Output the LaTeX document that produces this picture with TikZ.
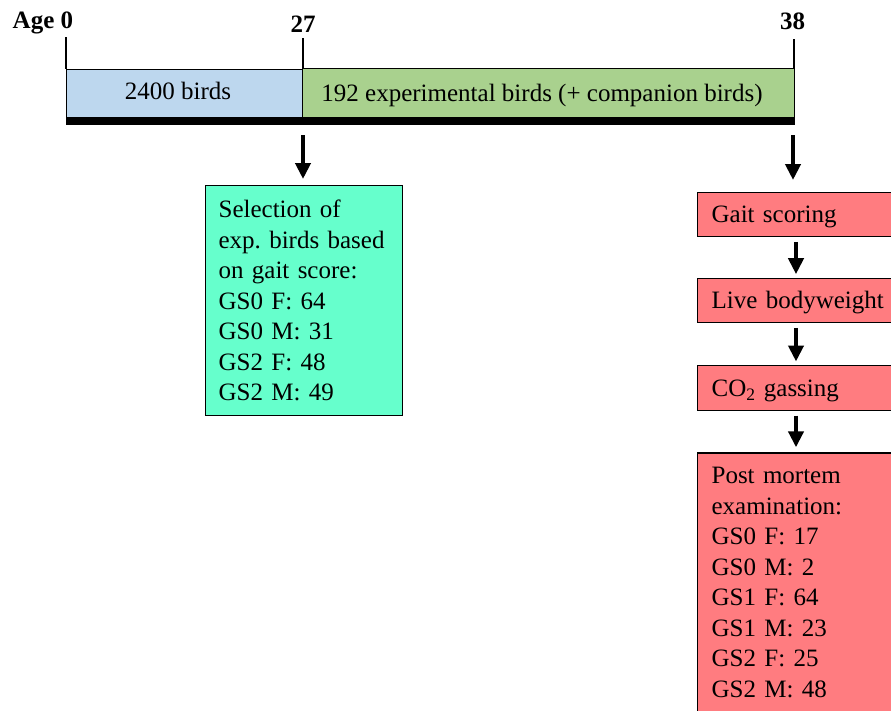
\documentclass[tikz,border=0pt]{standalone}
\usepackage{fontspec}
\setmainfont{Liberation Serif}
\usetikzlibrary{arrows.meta}
\definecolor{cblue}{RGB}{189,215,238}
\definecolor{cgreen}{RGB}{169,209,142}
\definecolor{caqua}{RGB}{102,255,204}
\definecolor{cred}{RGB}{255,124,128}
\frenchspacing
\begin{document}
\begin{tikzpicture}[x=1pt,y=-1pt,
  txt/.style={font=\fontsize{25}{30.5}\selectfont, inner sep=0pt},
  lbl/.style={font=\fontsize{25}{30.5}\selectfont\bfseries, inner sep=0pt},
  barbox/.style={draw=black, line width=1.1pt, inner sep=0pt, anchor=north west},
  redbox/.style={draw=black, line width=1.2pt, fill=cred, anchor=north west,
    font=\fontsize{25}{30.5}\selectfont, inner xsep=14pt, inner ysep=0pt,
    text width=182pt, align=left},
  oneline/.style={text height=17pt, text depth=0pt},
  selbox/.style={draw=black, line width=1.2pt, fill=caqua, anchor=north west,
    font=\fontsize{25}{30.5}\selectfont, inner xsep=13pt, inner ysep=0pt,
    text width=171pt, align=left, minimum height=230pt},
  tick/.style={line width=1.1pt},
  bigarrow/.style={line width=4.7pt, -{Triangle[width=15pt,length=16pt]}}
]
\useasboundingbox (0,0) rectangle (891,710);
\clip (0,0) rectangle (891,710);

% timeline bar
\node[barbox, fill=cblue, minimum width=236pt, minimum height=48pt] (blue) at (66,69) {};
\node[barbox, fill=cgreen, minimum width=492pt, minimum height=49pt] (green) at (302,68) {};
\fill[black] (blue.south west) rectangle ([yshift=-7pt]green.south east);
\node[txt, anchor=base] (bluetxt) at (178,99) {2400 birds};
\node[txt, anchor=base] (greentxt) at (542,101.5) {192 experimental birds (+ companion birds)};

% ticks and ages
\coordinate (t0) at (66,37);
\coordinate (t27) at (303,38);
\coordinate (t38) at (794,39);
\draw[tick] (t0) -- (blue.north west);
\draw[tick] (t27) -- (t27 |- green.north);
\draw[tick] (t38) -- (t38 |- green.north);
\node[lbl, anchor=base west] (age0) at (12.5,28) {Age 0};
\node[lbl, anchor=base] (age27) at (303,32) {27};
\node[lbl, anchor=base] (age38) at (792.5,29.5) {38};

% selection box
\node[selbox] (sel) at (205,185) {Selection of\\exp. birds based\\on gait score:\\GS0 F: 64\\GS0 M: 31\\GS2 F: 48\\GS2 M: 49};
\coordinate (a1s) at (303,135);
\draw[bigarrow] (a1s) -- ([yshift=6pt]a1s |- sel.north);

% red column
\node[redbox, oneline, minimum height=44pt] (gait) at (697,191.7) {Gait scoring};
\node[redbox, oneline, minimum height=44pt] (live) at (697,277.7) {Live bodyweight};
\node[redbox, oneline, minimum height=44.5pt] (co2) at (697,365) {CO\textsubscript{2} gassing};
\node[redbox, minimum height=259pt] (pm) at (697,452.3) {Post mortem\\examination:\\GS0 F: 17\\GS0 M: 2\\GS1 F: 64\\GS1 M: 23\\GS2 F: 25\\GS2 M: 48};

\coordinate (a2s) at (793,135);
\coordinate (a2e) at (793,180);
\draw[bigarrow] (a2s) -- (a2e);
\draw[bigarrow] ([xshift=99pt,yshift=-5pt]gait.south west) -- ([xshift=99pt,yshift=3.5pt]live.north west);
\draw[bigarrow] ([xshift=99pt,yshift=-5pt]live.south west) -- ([xshift=99pt,yshift=3.5pt]co2.north west);
\draw[bigarrow] ([xshift=99pt,yshift=-5pt]co2.south west) -- ([xshift=99pt,yshift=5pt]pm.north west);
\end{tikzpicture}
\end{document}
